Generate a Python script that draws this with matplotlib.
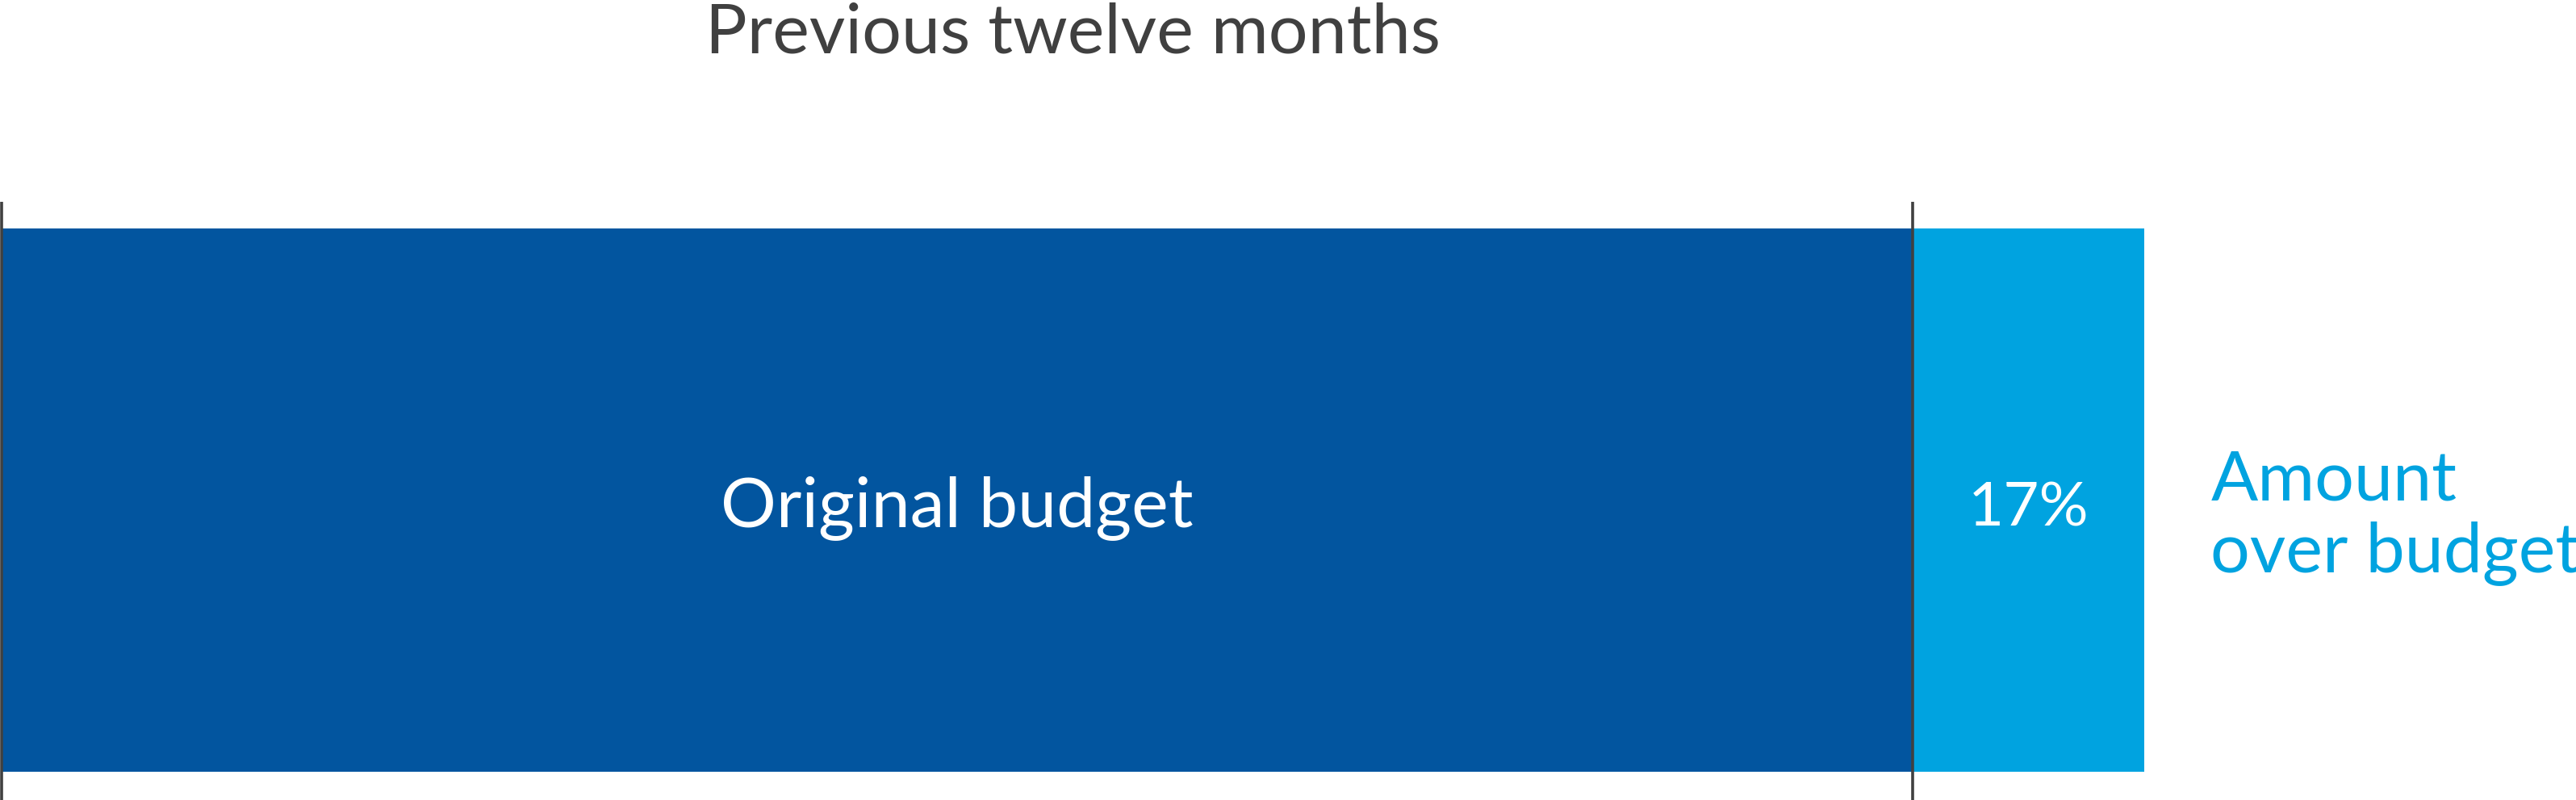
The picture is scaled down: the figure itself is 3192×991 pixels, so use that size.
import matplotlib
matplotlib.use("Agg")
import matplotlib.pyplot as plt

plt.rcParams['font.family'] = ['Lato', 'DejaVu Sans']

# data
segments = ["Original budget", "Amount over budget"]
widths = [100, 12.1]          # drawn widths (original budget = 100)
bar_labels = ["Original budget", "17%"]
title = "Previous twelve months"
side_label = ["Amount", "over budget"]

dark = "#02559F"
light = "#00A3E0"
grey = "#404040"

W, H = 3192, 991
fig = plt.figure(figsize=(W / 100, H / 100), dpi=100)
ax = fig.add_axes([0, 0, 1, 1])

px = 23.68  # pixels per data unit
ax.set_xlim(-2 / px, (W - 2) / px)
ax.set_ylim(H, 0)
ax.axis("off")

bar_y, bar_h = 619.5, 673
left = 0
colors = [dark, light]
for w, c, lab in zip(widths, colors, bar_labels):
    ax.barh(bar_y, w, height=bar_h, left=left, color=c, edgecolor="none")
    size = 62 if lab != "17%" else 55
    ax.text(left + w / 2, 652, lab, color="white", fontsize=size,
            ha="center", va="baseline")
    left += w

# boundary lines
for xv in [0, widths[0]]:
    ax.plot([xv, xv], [250, H], color=grey, lw=2.6, solid_capstyle="butt")

# label to the right of the bar, one line at a time
for line, base in zip(side_label, [619, 708]):
    ax.text(left + 3.5, base, line, color=light, fontsize=62,
            ha="left", va="baseline")

fig.text(1330 / W, 1 - 65 / H, title, color=grey, fontsize=62,
         ha="center", va="baseline")

fig.savefig("out.png", dpi=100)
